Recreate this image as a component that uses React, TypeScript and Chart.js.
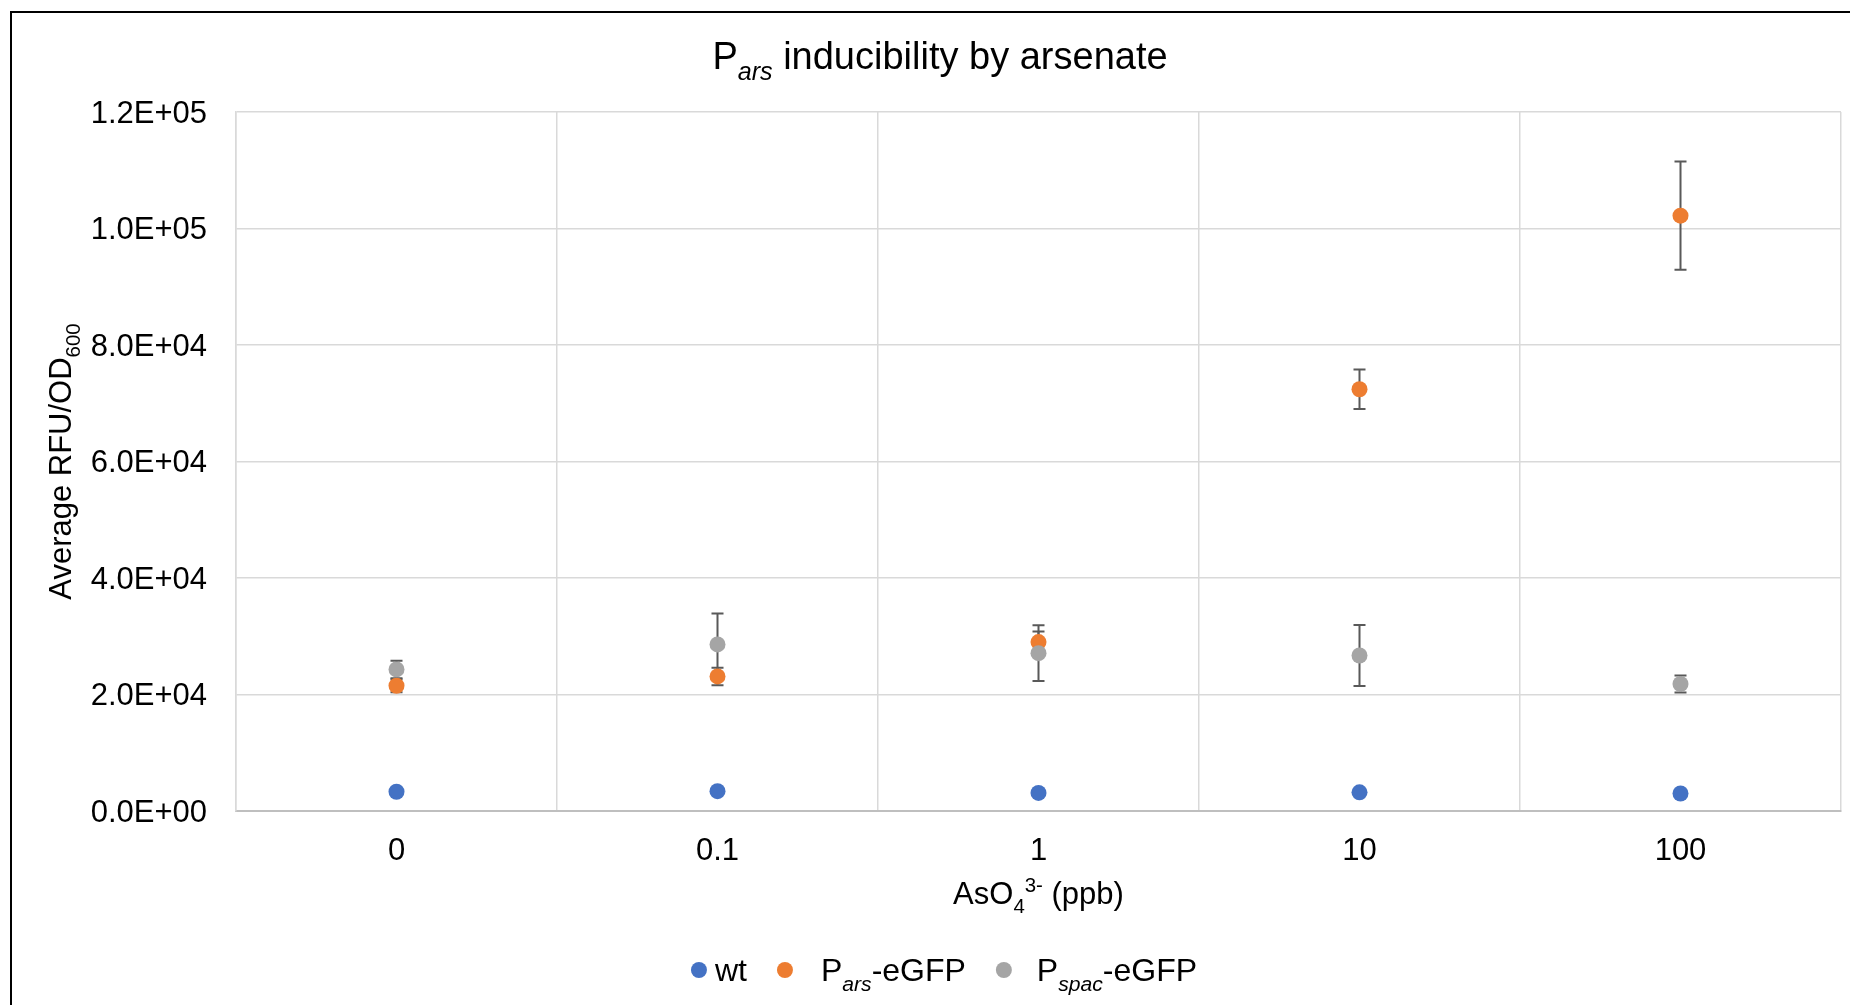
import React, { useEffect, useRef } from "react";
import { Chart, registerables } from "chart.js";

Chart.register(...registerables);

const FONT = '"Liberation Sans", Arial, Helvetica, sans-serif';

// ---- data ----
const categories = ["0", "0.1", "1", "10", "100"];
const wtMean = [3300, 3400, 3100, 3200, 3000];
const parsMean = [21500, 23100, 29000, 72400, 102200];
const parsErr = [1100, 1500, 1800, 3400, 9300];
const pspacMean = [24300, 28600, 27100, 26700, 21800];
const pspacErr = [1500, 5300, 4800, 5250, 1450];
const yTickValues = [0, 20000, 40000, 60000, 80000, 100000, 120000];

const C_WT = "#4472C4";
const C_PARS = "#ED7D31";
const C_PSPAC = "#A5A5A5";

type Seg = { t: string; it?: boolean; sub?: boolean; sup?: boolean };

const titleSegs: Seg[] = [
  { t: "P" },
  { t: "ars", it: true, sub: true },
  { t: " inducibility by arsenate" },
];
const xTitleSegs: Seg[] = [
  { t: "AsO" },
  { t: "4", sub: true },
  { t: "3-", sup: true },
  { t: " (ppb)" },
];
const yTitleSegs: Seg[] = [{ t: "Average RFU/OD" }, { t: "600", sub: true }];
const legendItems: { segs: Seg[]; color: string; gap: number }[] = [
  { segs: [{ t: "wt" }], color: C_WT, gap: 16 },
  { segs: [{ t: "P" }, { t: "ars", it: true, sub: true }, { t: "-eGFP" }], color: C_PARS, gap: 36 },
  { segs: [{ t: "P" }, { t: "spac", it: true, sub: true }, { t: "-eGFP" }], color: C_PSPAC, gap: 33 },
];

const SMALL = 0.66;

function fontOf(s: Seg, size: number) {
  const sz = s.sub || s.sup ? size * SMALL : size;
  return `${s.it ? "italic " : ""}${sz}px ${FONT}`;
}
function richWidth(ctx: CanvasRenderingContext2D, segs: Seg[], size: number) {
  let w = 0;
  for (const s of segs) {
    ctx.font = fontOf(s, size);
    w += ctx.measureText(s.t).width;
  }
  return w;
}
function drawRich(
  ctx: CanvasRenderingContext2D,
  segs: Seg[],
  x: number,
  baseline: number,
  size: number
) {
  ctx.textAlign = "left";
  ctx.textBaseline = "alphabetic";
  let cx = x;
  for (const s of segs) {
    ctx.font = fontOf(s, size);
    const dy = s.sub ? size * 0.3 : s.sup ? -size * 0.38 : 0;
    ctx.fillText(s.t, cx, baseline + dy);
    cx += ctx.measureText(s.t).width;
  }
  return cx;
}

function formatSci(v: number) {
  if (v === 0) return "0.0E+00";
  const exp = Math.floor(Math.log10(v) + 1e-9);
  const mant = v / Math.pow(10, exp);
  return `${mant.toFixed(1)}E+${String(exp).padStart(2, "0")}`;
}

const errorBarPlugin = {
  id: "errorBars",
  beforeDatasetsDraw(chart: any) {
    const ctx: CanvasRenderingContext2D = chart.ctx;
    const yScale = chart.scales.y;
    ctx.save();
    ctx.strokeStyle = "#595959";
    ctx.lineWidth = 2;
    chart.data.datasets.forEach((ds: any, di: number) => {
      const errs: number[] | undefined = ds.errors;
      if (!errs) return;
      const meta = chart.getDatasetMeta(di);
      meta.data.forEach((pt: any, i: number) => {
        const v = ds.data[i];
        const e = errs[i];
        if (v == null || e == null) return;
        const x = pt.x;
        const yTop = yScale.getPixelForValue(v + e);
        const yBot = yScale.getPixelForValue(v - e);
        ctx.beginPath();
        ctx.moveTo(x, yTop);
        ctx.lineTo(x, yBot);
        ctx.moveTo(x - 6, yTop);
        ctx.lineTo(x + 6, yTop);
        ctx.moveTo(x - 6, yBot);
        ctx.lineTo(x + 6, yBot);
        ctx.stroke();
      });
    });
    ctx.restore();
  },
};

const decorPlugin = {
  id: "decor",
  afterDraw(chart: any) {
    const ctx: CanvasRenderingContext2D = chart.ctx;
    const area = chart.chartArea;
    ctx.save();
    ctx.fillStyle = "#000";

    // outer frame
    ctx.strokeStyle = "#000";
    ctx.lineWidth = 2;
    ctx.strokeRect(11, 12, 1860, 1100);

    // title
    const tSize = 38;
    const tw = richWidth(ctx, titleSegs, tSize);
    drawRich(ctx, titleSegs, 940 - tw / 2, 69, tSize);

    // x axis title
    const xSize = 31;
    const xw = richWidth(ctx, xTitleSegs, xSize);
    const xc = (area.left + area.right) / 2;
    drawRich(ctx, xTitleSegs, xc - xw / 2, 904, xSize);

    // y axis title (rotated)
    const ySize = 31;
    const yw = richWidth(ctx, yTitleSegs, ySize);
    const yc = (area.top + area.bottom) / 2;
    ctx.save();
    ctx.translate(71, yc);
    ctx.rotate(-Math.PI / 2);
    drawRich(ctx, yTitleSegs, -yw / 2, 0, ySize);
    ctx.restore();

    // legend
    const lSize = 32;
    const between = 38;
    const r = 8;
    let total = 0;
    legendItems.forEach((it, i) => {
      total += it.gap + richWidth(ctx, it.segs, lSize);
      if (i < legendItems.length - 1) total += between;
    });
    total += r;
    let x = 944 - total / 2 + r;
    const cy = 970;
    legendItems.forEach((it) => {
      ctx.fillStyle = it.color;
      ctx.beginPath();
      ctx.arc(x, cy, r, 0, Math.PI * 2);
      ctx.fill();
      ctx.fillStyle = "#000";
      const end = drawRich(ctx, it.segs, x + it.gap, cy + 11, lSize);
      x = end + between;
    });
    ctx.restore();
  },
};

export default function App() {
  const ref = useRef<HTMLCanvasElement | null>(null);

  useEffect(() => {
    if (!ref.current) return;
    const pointCommon = {
      showLine: false,
      pointRadius: 8,
      pointHoverRadius: 8,
      pointBorderWidth: 0,
    };
    const chart = new Chart(ref.current, {
      type: "line",
      data: {
        labels: categories,
        datasets: [
          {
            label: "wt",
            data: wtMean,
            backgroundColor: C_WT,
            borderColor: C_WT,
            pointBackgroundColor: C_WT,
            order: 2,
            ...pointCommon,
          } as any,
          {
            label: "Pars-eGFP",
            data: parsMean,
            errors: parsErr,
            backgroundColor: C_PARS,
            borderColor: C_PARS,
            pointBackgroundColor: C_PARS,
            order: 1,
            ...pointCommon,
          } as any,
          {
            label: "Pspac-eGFP",
            data: pspacMean,
            errors: pspacErr,
            backgroundColor: C_PSPAC,
            borderColor: C_PSPAC,
            pointBackgroundColor: C_PSPAC,
            order: 0,
            ...pointCommon,
          } as any,
        ],
      },
      options: {
        responsive: false,
        animation: false,
        devicePixelRatio: 1,
        layout: { padding: { top: 112, right: 9, bottom: 0, left: 0 } },
        plugins: {
          legend: { display: false },
          title: { display: false },
          tooltip: { enabled: false },
        },
        scales: {
          x: {
            type: "category",
            offset: true,
            grid: {
              offset: true,
              color: "#d9d9d9",
              lineWidth: 1.5,
              drawTicks: false,
            },
            border: { display: true, color: "#bfbfbf", width: 2 },
            ticks: {
              color: "#000",
              font: { family: FONT, size: 31 },
              padding: 22,
              maxRotation: 0,
            },
            afterFit: (s: any) => {
              s.height = 194;
            },
          },
          y: {
            type: "linear",
            min: 0,
            max: 120000,
            grid: { color: "#d9d9d9", lineWidth: 1.5, drawTicks: false },
            border: { display: true, color: "#d9d9d9", width: 1.5 },
            ticks: {
              color: "#000",
              font: { family: FONT, size: 31 },
              padding: 29,
              labelOffset: 2,
              callback: (v: any) => formatSci(Number(v)),
            },
            afterBuildTicks: (s: any) => {
              s.ticks = yTickValues.map((v) => ({ value: v }));
            },
            afterFit: (s: any) => {
              s.width = 236;
            },
          },
        },
      } as any,
      plugins: [errorBarPlugin, decorPlugin],
    });
    return () => chart.destroy();
  }, []);

  return (
    <div
      style={{
        position: "fixed",
        left: 0,
        top: 0,
        width: 1850,
        height: 1005,
        background: "#fff",
        overflow: "hidden",
      }}
    >
      <canvas ref={ref} width={1850} height={1005} style={{ display: "block" }} />
    </div>
  );
}
